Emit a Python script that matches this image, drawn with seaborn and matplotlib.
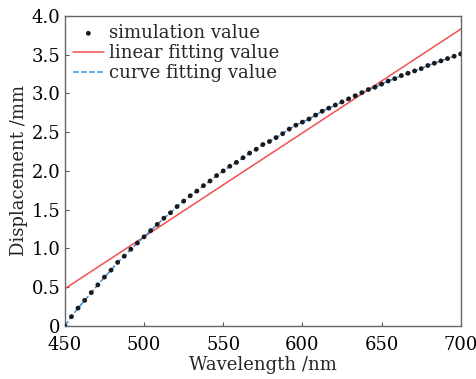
import matplotlib
matplotlib.use("Agg")
import matplotlib.pyplot as plt
import seaborn as sns

# %% data
wavelength = [
    450.00, 454.17, 458.33, 462.50, 466.67, 470.83, 475.00, 479.17, 483.33, 487.50,
    491.67, 495.83, 500.00, 504.17, 508.33, 512.50, 516.67, 520.83, 525.00, 529.17,
    533.33, 537.50, 541.67, 545.83, 550.00, 554.17, 558.33, 562.50, 566.67, 570.83,
    575.00, 579.17, 583.33, 587.50, 591.67, 595.83, 600.00, 604.17, 608.33, 612.50,
    616.67, 620.83, 625.00, 629.17, 633.33, 637.50, 641.67, 645.83, 650.00, 654.17,
    658.33, 662.50, 666.67, 670.83, 675.00, 679.17, 683.33, 687.50, 691.67, 695.83,
    700.00,
]
displacement = [
    0.00, 0.12, 0.23, 0.33, 0.43, 0.53, 0.63, 0.72, 0.82, 0.90,
    0.99, 1.07, 1.15, 1.23, 1.31, 1.39, 1.46, 1.54, 1.61, 1.68,
    1.74, 1.81, 1.87, 1.94, 2.00, 2.06, 2.11, 2.17, 2.23, 2.28,
    2.34, 2.38, 2.43, 2.48, 2.54, 2.59, 2.63, 2.67, 2.72, 2.77,
    2.81, 2.85, 2.89, 2.93, 2.97, 3.01, 3.05, 3.08, 3.12, 3.16,
    3.19, 3.23, 3.26, 3.29, 3.32, 3.36, 3.39, 3.42, 3.45, 3.48,
    3.51,
]
linear_x = [450, 700]
linear_y = [0.48, 3.83]

x_ticks = [450, 500, 550, 600, 650, 700]
y_ticks = [0, 0.5, 1.0, 1.5, 2.0, 2.5, 3.0, 3.5, 4.0]
y_tick_labels = ["0", "0.5", "1.0", "1.5", "2.0", "2.5", "3.0", "3.5", "4.0"]

# %% plot
sns.set_style("ticks")
plt.rcParams["font.family"] = ["DejaVu Serif"]
plt.rcParams["font.size"] = 12

fig = plt.figure(figsize=(4.77, 3.79), dpi=100)
ax = fig.add_axes([0.136, 0.140, 0.830, 0.818])

sns.scatterplot(x=wavelength, y=displacement, ax=ax, color="#1a1a1a", s=12,
                edgecolor="none", label="simulation value", zorder=3)
sns.lineplot(x=linear_x, y=linear_y, ax=ax, color="#f25050", linewidth=1.1,
             label="linear fitting value")
sns.lineplot(x=wavelength, y=displacement, ax=ax, color="#3b8fd8", linewidth=1.1,
             linestyle="--", label="curve fitting value")

ax.set_xlim(450, 700)
ax.set_ylim(0, 4)
ax.set_xticks(x_ticks)
ax.set_yticks(y_ticks)
ax.set_yticklabels(y_tick_labels)
ax.tick_params(direction="in", length=3, width=0.8, colors="#555555",
               labelcolor="black", labelsize=13)
ax.tick_params(axis="x", pad=7)
ax.tick_params(axis="y", pad=3)
for side in ["top", "right", "bottom", "left"]:
    ax.spines[side].set_color("#666666")
    ax.spines[side].set_linewidth(1.0)

ax.set_xlabel("Wavelength /nm", fontsize=13, labelpad=2)
ax.set_ylabel("Displacement /mm", fontsize=13, labelpad=3)

ax.legend(loc="upper left", frameon=False, fontsize=13, handlelength=1.7,
          handletextpad=0.3, labelspacing=0.12, borderaxespad=0.25,
          borderpad=0.2)

fig.savefig("out.png", dpi=100)
